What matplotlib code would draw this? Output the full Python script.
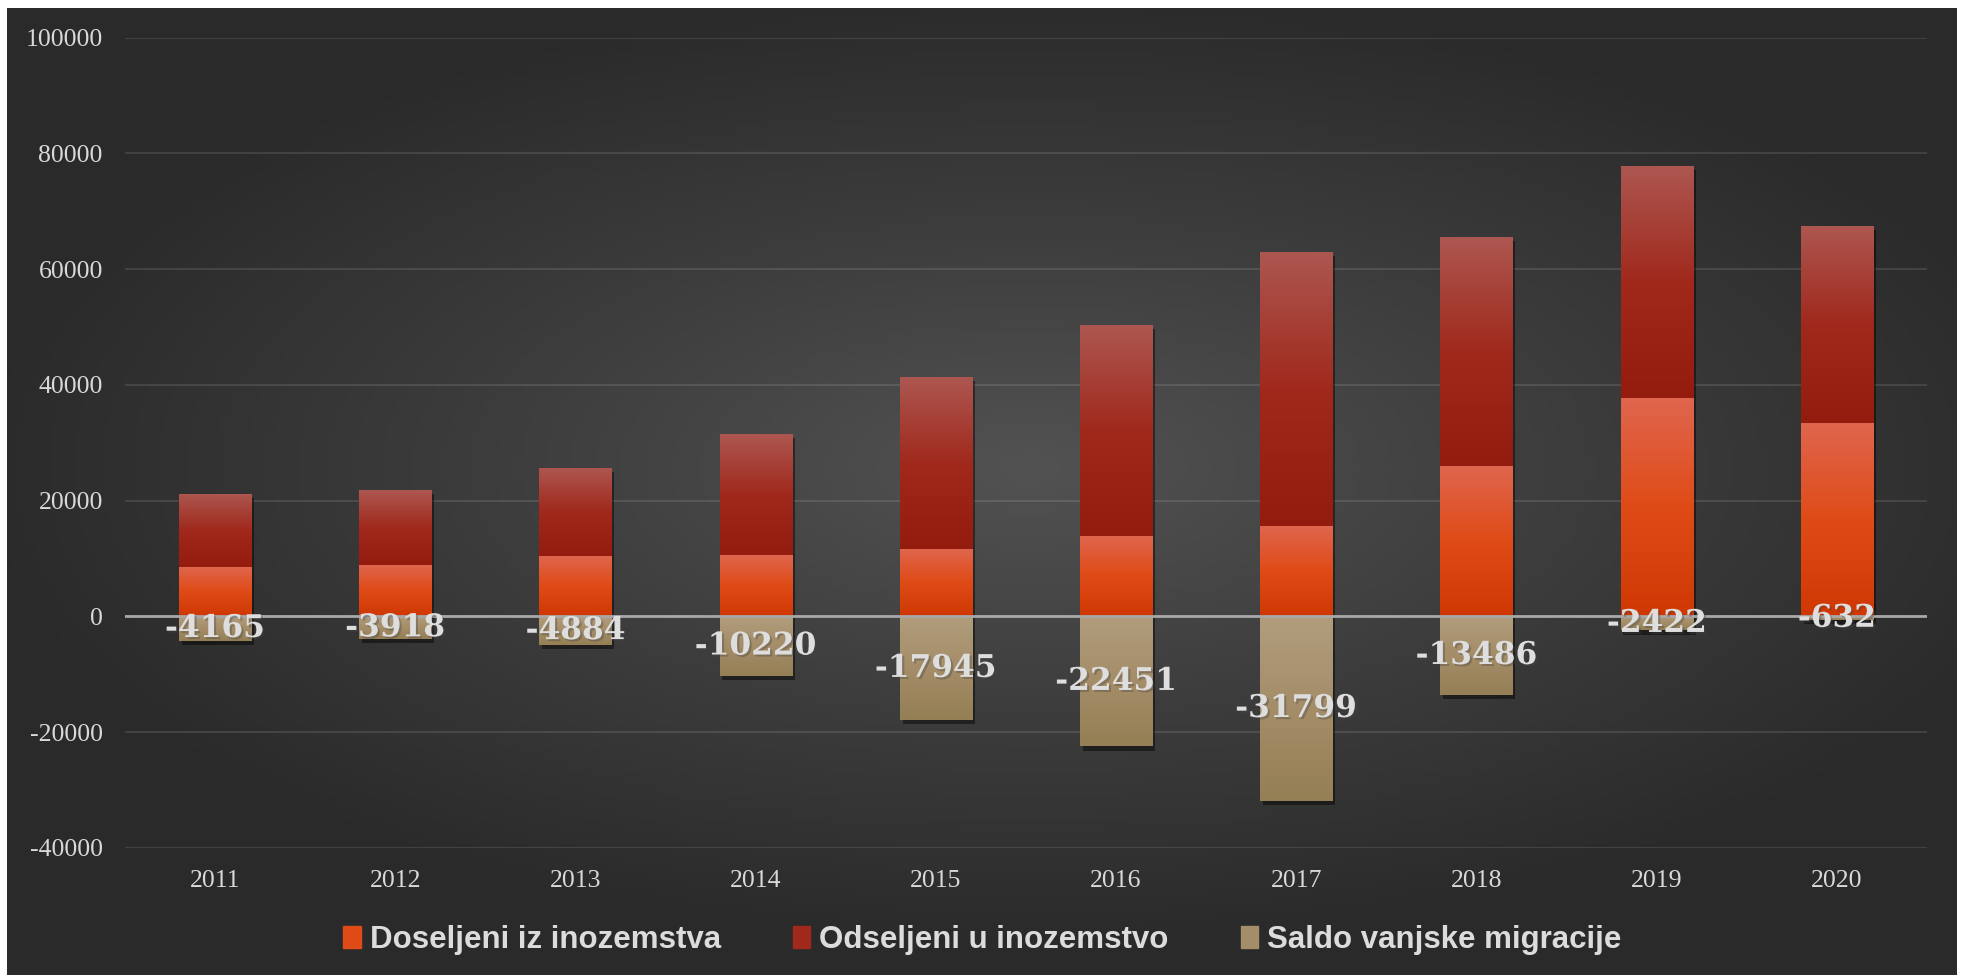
import numpy as np
import matplotlib
matplotlib.use("Agg")
import matplotlib.pyplot as plt
import matplotlib.patheffects as pe
from matplotlib.colors import LinearSegmentedColormap
from matplotlib.patches import Patch

plt.rcParams["axes.unicode_minus"] = False

years = ["2011", "2012", "2013", "2014", "2015", "2016", "2017", "2018", "2019", "2020"]
doseljeni = [8534, 8959, 10378, 10638, 11706, 13985, 15553, 26029, 37726, 33414]
odseljeni = [12699, 12877, 15262, 20858, 29651, 36436, 47352, 39515, 40148, 34046]
saldo = [-4165, -3918, -4884, -10220, -17945, -22451, -31799, -13486, -2422, -632]

names = ["Doseljeni iz inozemstva", "Odseljeni u inozemstvo", "Saldo vanjske migracije"]
# gradient stops top -> bottom
grad_dos = ["#e0664f", "#df4b17", "#cf3803"]
grad_ods = ["#ad5751", "#a0291c", "#941c0f"]
grad_sal = ["#b19d7d", "#a48d68", "#957f55"]

W, H = 1965, 975
fig = plt.figure(figsize=(W / 100, H / 100), dpi=100, facecolor="white")

# dark radial background
bg = fig.add_axes([7 / W, 0, (1957 - 7) / W, (H - 8) / H], zorder=-10)
gx, gy = np.meshgrid(np.linspace(-1, 1, 400), np.linspace(-1, 1, 200))
r = np.sqrt(((gx - 0.05) / 1.1) ** 2 + ((gy + 0.05) / 1.0) ** 2)
r = np.clip(r, 0, 1)
bgcmap = LinearSegmentedColormap.from_list("bg", ["#525252", "#3d3d3d", "#2a2a2a"])
bg.imshow(r, cmap=bgcmap, aspect="auto", extent=[0, 1, 0, 1], vmin=0, vmax=1)
bg.axis("off")

ax = fig.add_axes([125 / W, 1 - 848 / H, (1927 - 125) / W, (848 - 37.6) / H])
ax.set_facecolor("none")

x = np.arange(len(years))
bw = 0.4
shadow = [pe.SimplePatchShadow(offset=(2, -3), shadow_rgbFace="black", alpha=0.45), pe.Normal()]

b1 = ax.bar(x, doseljeni, bw, color=grad_dos[1], label=names[0], zorder=3)
b2 = ax.bar(x, odseljeni, bw, bottom=doseljeni, color=grad_ods[1], label=names[1], zorder=3)
b3 = ax.bar(x, saldo, bw, color=grad_sal[1], label=names[2], zorder=3)


def fill_gradient(bars, stops):
    cmap = LinearSegmentedColormap.from_list("g", stops)
    grad = np.linspace(0, 1, 256).reshape(-1, 1)
    for p in bars:
        p.set_path_effects(shadow)
        x0, y0 = p.get_x(), p.get_y()
        w, h = p.get_width(), p.get_height()
        top, bot = max(y0, y0 + h), min(y0, y0 + h)
        im = ax.imshow(grad, cmap=cmap, aspect="auto", extent=[x0, x0 + w, bot, top],
                       origin="upper", zorder=3.5, interpolation="bilinear")
        im.set_clip_path(p)


fill_gradient(b1, grad_dos)
fill_gradient(b2, grad_ods)
fill_gradient(b3, grad_sal)
ax.set_xlim(-0.5, len(years) - 0.5)
ax.set_ylim(-40000, 100000)

ax.set_yticks(np.arange(-40000, 100001, 20000))
ax.yaxis.grid(True, color="white", alpha=0.11, lw=1.5, zorder=0)
ax.set_axisbelow(True)
ax.axhline(0, color="#a8a8a8", lw=2, zorder=5)
for s in ax.spines.values():
    s.set_visible(False)

ax.set_xticks(x)
ax.set_xticklabels(years)
ax.tick_params(axis="both", length=0, colors="#d9d9d9")
ax.tick_params(axis="x", pad=16)
ax.tick_params(axis="y", pad=16)
for t in ax.get_xticklabels():
    t.set_fontfamily("Liberation Serif")
    t.set_fontsize(18.5)
for t in ax.get_yticklabels():
    t.set_fontfamily("Liberation Serif")
    t.set_fontsize(18.5)

lbls = ax.bar_label(b3, labels=[str(v) for v in saldo], label_type="center",
                    fontsize=22.5, fontweight="bold", family="DejaVu Serif",
                    color="#dedede", zorder=6)
for t in lbls:
    t.set_path_effects([pe.withSimplePatchShadow(offset=(1.5, -1.5), alpha=0.35)])
    t.set_zorder(6)

handles = [Patch(color=grad_dos[1]), Patch(color=grad_ods[1]), Patch(color=grad_sal[1])]
leg = fig.legend(handles, names, loc="center", bbox_to_anchor=(0.5, 1 - 940 / H), ncol=3,
                 frameon=False, handlelength=0.55, handleheight=0.7, handletextpad=0.3,
                 columnspacing=2.3, prop={"family": "Liberation Sans", "weight": "bold", "size": 22.5})
for t in leg.get_texts():
    t.set_color("#dcdcdc")

fig.savefig("out.png", dpi=100, facecolor="white")
